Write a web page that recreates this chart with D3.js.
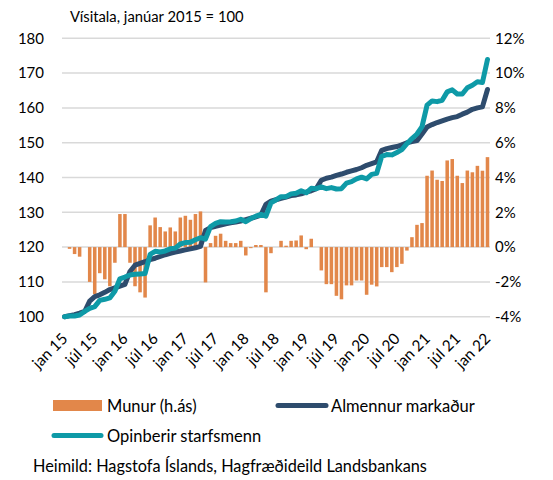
<!DOCTYPE html>
<html>
<head>
<meta charset="utf-8">
<script src="https://cdn.jsdelivr.net/npm/d3@7"></script>
<style>
  body { margin: 0; background: #fff; }
  svg text { font-family: Lato, "Open Sans", sans-serif; fill: #000; }
</style>
</head>
<body>
<svg id="chart" width="553" height="480"></svg>
<script>
// months jan 2015 - jan 2022
const monthNames = ["jan", "feb", "mar", "apr", "maí", "jún", "júl", "ágú", "sep", "okt", "nóv", "des"];
const months = [];
for (let y = 15; y <= 22; y++) {
  monthNames.forEach(m => { if (months.length < 85) months.push(m + " " + y); });
}
const tickLabels = ["jan 15", "júl 15", "jan 16", "júl 16", "jan 17", "júl 17", "jan 18", "júl 18",
  "jan 19", "júl 19", "jan 20", "júl 20", "jan 21", "júl 21", "jan 22"];

// Almennur markaður (index, left axis)
const almennur = [
  100.0, 100.3, 100.6, 101.0, 101.5, 104.5, 105.8, 106.3, 107.0, 107.8, 108.3, 108.8,
  109.3, 113.0, 114.8, 115.3, 115.8, 116.4, 116.8, 117.3, 117.8, 118.2, 118.6, 118.9,
  119.2, 119.5, 119.8, 120.2, 124.8, 125.6, 126.0, 126.3, 126.7, 127.0, 127.2, 127.5,
  127.9, 128.3, 128.7, 129.2, 132.3, 133.2, 133.6, 134.0, 134.4, 134.8, 135.0, 135.3,
  135.8, 136.2, 136.8, 139.2, 139.8, 140.1, 140.6, 141.0, 141.5, 141.9, 142.3, 142.8,
  143.5, 144.0, 144.5, 147.8, 148.3, 148.6, 148.9, 149.4, 150.0, 150.3, 150.6, 152.5,
  154.5, 155.2, 155.8, 156.3, 156.8, 157.2, 157.5, 158.2, 158.8, 159.6, 160.0, 160.3,
  165.3
];

// Opinberir starfsmenn (index, left axis)
const opinberir = [
  100.0, 100.2, 100.2, 100.5, 101.5, 102.4, 102.9, 104.7, 105.0, 105.4, 107.3, 110.9,
  111.4, 112.0, 112.2, 112.3, 112.4, 117.9, 118.8, 118.6, 118.9, 119.5, 119.7, 120.9,
  121.3, 121.4, 122.1, 122.7, 122.3, 125.9, 126.8, 127.3, 127.2, 127.3, 127.5, 128.0,
  127.3, 128.2, 128.9, 129.4, 128.9, 132.7, 133.6, 134.5, 134.5, 135.3, 135.5, 136.2,
  135.6, 136.9, 136.8, 137.3, 136.8, 137.1, 136.7, 136.8, 138.4, 138.8, 139.6, 140.1,
  139.6, 140.9, 141.2, 146.1, 146.6, 146.5, 147.2, 148.0, 149.7, 151.2, 152.5, 154.6,
  160.8, 162.0, 161.8, 162.2, 164.6, 165.2, 164.0, 164.0, 165.8, 166.5, 167.5, 167.3,
  173.9
];

// Munur (%, right axis)
const munur = [
  0, -0.1, -0.4, -0.55, 0, -2.0, -2.7, -1.5, -1.85, -2.25, -0.9, 1.9,
  1.9, -0.9, -2.25, -2.6, -2.9, 1.25, 1.7, 1.15, 0.9, 1.13, 0.9, 1.7,
  1.8, 1.57, 1.9, 2.05, -2.03, 0.23, 0.65, 0.77, 0.36, 0.23, 0.23, 0.36,
  -0.48, -0.06, 0.12, 0.12, -2.6, -0.35, 0, 0.36, 0.08, 0.36, 0.38, 0.67,
  -0.12, 0.48, 0, -1.34, -2.13, -2.13, -2.8, -3.0, -2.2, -2.2, -1.92, -1.92,
  -2.74, -2.16, -2.26, -1.15, -1.15, -1.44, -1.15, -0.96, -0.2, 0.57, 1.28, 1.38,
  4.1, 4.4, 3.87, 3.8, 4.98, 5.06, 4.1, 3.68, 4.4, 4.3, 4.67, 4.39,
  5.17
];

const leftTicks = [100, 110, 120, 130, 140, 150, 160, 170, 180];
const rightTicks = [-4, -2, 0, 2, 4, 6, 8, 10, 12];

const colors = { munur: "#E2874A", almennur: "#2E4C6D", opinberir: "#0E9AA7" };

const svg = d3.select("#chart");
const plot = { left: 62, right: 490, top: 38.3, bottom: 316.7 };

const x = d3.scaleBand()
  .domain(months)
  .range([plot.left, plot.right])
  .paddingInner(0.3)
  .paddingOuter(0.15);
const xc = d => x(d) + x.bandwidth() / 2;

const yL = d3.scaleLinear().domain([100, 180]).range([plot.bottom, plot.top]);
const yR = d3.scaleLinear().domain([-4, 12]).range([plot.bottom, plot.top]);

// gridlines
svg.append("g")
  .selectAll("line")
  .data(leftTicks)
  .join("line")
    .attr("x1", plot.left)
    .attr("x2", plot.right)
    .attr("y1", d => yL(d))
    .attr("y2", d => yL(d))
    .attr("stroke", "#d9d9d9")
    .attr("stroke-width", 1.5);

// left axis labels
const axisL = svg.append("g")
  .attr("transform", `translate(${plot.left - 16},0)`)
  .call(d3.axisLeft(yL).tickValues(leftTicks).tickSize(0).tickPadding(2));
axisL.select(".domain").remove();
axisL.selectAll("text").style("font-size", "15px").style("font-family", "Lato, sans-serif").attr("fill", "#000");

// right axis labels
const axisR = svg.append("g")
  .attr("transform", `translate(${plot.right + 3},0)`)
  .call(d3.axisRight(yR).tickValues(rightTicks).tickSize(0).tickPadding(2).tickFormat(d => d + "%"));
axisR.select(".domain").remove();
axisR.selectAll("text").style("font-size", "15px").style("font-family", "Lato, sans-serif").attr("fill", "#000");

// bars
svg.append("g")
  .selectAll("rect")
  .data(munur)
  .join("rect")
    .attr("x", (d, i) => x(months[i]))
    .attr("y", d => Math.min(yR(d), yR(0)))
    .attr("width", x.bandwidth())
    .attr("height", d => Math.abs(yR(d) - yR(0)))
    .attr("fill", colors.munur);

// lines
const line = d3.line()
  .x((d, i) => xc(months[i]))
  .y(d => yL(d));

svg.append("path")
  .datum(almennur)
  .attr("d", line)
  .attr("fill", "none")
  .attr("stroke", colors.almennur)
  .attr("stroke-width", 5)
  .attr("stroke-linejoin", "round")
  .attr("stroke-linecap", "round");

svg.append("path")
  .datum(opinberir)
  .attr("d", line)
  .attr("fill", "none")
  .attr("stroke", colors.opinberir)
  .attr("stroke-width", 5)
  .attr("stroke-linejoin", "round")
  .attr("stroke-linecap", "round");

// x tick labels
svg.append("g")
  .selectAll("text")
  .data(tickLabels)
  .join("text")
    .attr("transform", d => `translate(${xc(d) + 4},${plot.bottom + 23}) rotate(-45)`)
    .attr("text-anchor", "end")
    .style("font-size", "15.5px")
    .text(d => d);

// title
svg.append("text")
  .attr("x", 70)
  .attr("y", 22)
  .style("font-size", "14.8px")
  .text("Vísitala, janúar 2015 = 100");

// legend
const legend = svg.append("g");
legend.append("rect")
  .attr("x", 53).attr("y", 400)
  .attr("width", 49).attr("height", 11)
  .attr("fill", colors.munur);
legend.append("text").attr("x", 107).attr("y", 412).style("font-size", "16.5px").text("Munur (h.ás)");

legend.append("line")
  .attr("x1", 278).attr("x2", 326).attr("y1", 405.5).attr("y2", 405.5)
  .attr("stroke", colors.almennur).attr("stroke-width", 5).attr("stroke-linecap", "round");
legend.append("text").attr("x", 331).attr("y", 412).style("font-size", "16.5px").text("Almennur markaður");

legend.append("line")
  .attr("x1", 54).attr("x2", 101).attr("y1", 435.5).attr("y2", 435.5)
  .attr("stroke", colors.opinberir).attr("stroke-width", 5).attr("stroke-linecap", "round");
legend.append("text").attr("x", 107).attr("y", 442).style("font-size", "16.5px").text("Opinberir starfsmenn");

// source
svg.append("text")
  .attr("x", 33)
  .attr("y", 472)
  .style("font-size", "16.3px")
  .text("Heimild: Hagstofa Íslands, Hagfræðideild Landsbankans");
</script>
</body>
</html>
